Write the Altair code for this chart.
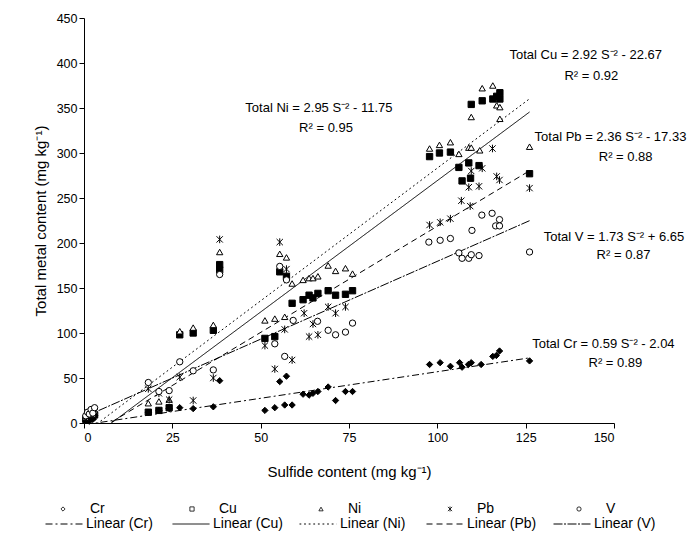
import altair as alt
import pandas as pd

# ---------------- data ----------------
metals = ["Cr", "Cu", "Ni", "Pb", "V"]
metal_fill = ["solid", "solid", "open", "solid", "open"]

cr_s = [0.5, 1.0, 1.5, 2.0, 2.5, 3.0, 18.2, 21.2, 24.1, 27.1, 30.9, 36.6, 38.4,
        51.2, 54.0, 55.4, 56.8, 57.3, 58.9, 62.0, 63.7, 64.8, 66.2, 69.1, 71.2, 74.0, 76.0,
        97.8, 100.8, 103.7, 106.3, 107.0, 108.8, 109.6, 112.4, 115.7, 116.7, 117.6, 126.1]
cr_m = [3, 5, 2, 6, 4, 8, 12, 14, 16, 17, 16, 18, 47,
        14, 17, 46, 20, 52, 20, 32, 31, 33, 35, 40, 25, 35, 35,
        65, 67, 63, 67, 62, 65, 67, 65, 74, 75, 80, 69]

cu_s = [0.5, 1.0, 1.5, 2.0, 2.5, 3.0, 18.2, 21.2, 24.1, 27.1, 30.9, 36.6, 38.4, 38.4,
        51.2, 54.0, 55.4, 57.3, 58.9, 62.0, 63.7, 64.8, 66.2, 69.1, 71.2, 74.0, 76.0,
        97.8, 100.6, 103.7, 106.1, 107.0, 108.9, 109.4, 109.6, 111.8, 112.7, 115.7, 116.8,
        117.7, 117.7, 126.1]
cu_m = [4, 8, 6, 10, 7, 9, 12, 14, 17, 98, 100, 103, 170, 176,
        94, 96, 168, 163, 133, 137, 142, 139, 144, 147, 142, 143, 147,
        296, 300, 301, 284, 269, 289, 272, 354, 286, 358, 360, 363,
        367, 360, 277]

ni_s = [0.5, 1.0, 1.5, 2.0, 2.5, 3.0, 18.2, 21.2, 24.1, 27.1, 30.9, 36.6, 38.4,
        51.2, 54.0, 55.4, 56.8, 57.3, 58.9, 62.0, 63.7, 64.8, 66.2, 69.1, 71.2, 74.0, 76.0,
        97.8, 100.6, 103.7, 106.1, 108.9, 109.6, 109.6, 112.0, 112.7, 115.7, 116.8, 117.7,
        117.7, 126.1]
ni_m = [6, 10, 8, 12, 9, 14, 22, 24, 26, 102, 106, 109, 190,
        114, 116, 188, 118, 184, 155, 159, 161, 161, 163, 175, 169, 172, 166,
        305, 309, 312, 299, 306, 306, 340, 303, 372, 375, 353, 351,
        338, 307]

pb_s = [0.5, 1.0, 1.5, 2.0, 2.5, 3.0, 18.2, 21.2, 24.1, 27.1, 30.9, 36.6, 38.4,
        51.2, 54.0, 55.4, 56.8, 57.3, 58.9, 62.3, 63.7, 64.8, 66.2, 69.1, 71.2, 74.0,
        97.8, 100.8, 103.7, 106.8, 108.9, 109.3, 109.6, 111.8, 112.7, 115.6, 116.8, 117.6, 126.1]
pb_m = [5, 9, 7, 11, 8, 12, 38, 33, 26, 51, 25, 50, 204,
        86, 60, 201, 104, 171, 70, 122, 96, 110, 98, 129, 122, 129,
        220, 223, 227, 247, 262, 241, 280, 263, 283, 305, 274, 270, 261]

v_s = [0.5, 1.0, 1.5, 2.0, 2.5, 3.0, 18.2, 21.2, 24.1, 27.1, 30.9, 36.6, 38.4,
       54.0, 55.4, 56.8, 57.3, 59.2, 66.1, 69.1, 71.2, 74.0, 76.0,
       97.6, 100.8, 103.7, 106.1, 107.0, 108.9, 109.6, 109.8, 111.8, 112.6, 115.5, 116.5,
       117.6, 117.6, 126.1]
v_m = [8, 12, 10, 15, 11, 17, 45, 35, 36, 68, 58, 59, 165,
       88, 174, 74, 159, 114, 113, 103, 98, 101, 111,
       201, 203, 205, 189, 183, 183, 187, 214, 186, 231, 233, 219,
       226, 219, 190]

fit_names = ["Linear (Cr)", "Linear (Cu)", "Linear (Ni)", "Linear (Pb)", "Linear (V)"]
fit_slope = [0.59, 2.92, 2.95, 2.36, 1.73]
fit_intercept = [-2.04, -22.67, -11.75, -17.33, 6.65]

annot_text = ["Total Ni = 2.95 S\u207b\u00b2 - 11.75", "R\u00b2 = 0.95",
              "Total Cu = 2.92 S\u207b\u00b2 - 22.67", "R\u00b2 = 0.92",
              "Total Pb = 2.36 S\u207b\u00b2 - 17.33", "R\u00b2 = 0.88",
              "Total V = 1.73 S\u207b\u00b2 + 6.65", "R\u00b2 = 0.87",
              "Total Cr = 0.59 S\u207b\u00b2 - 2.04", "R\u00b2 = 0.89"]
annot_x = [66.5, 68.5, 142.0, 143.6, 149.0, 153.3, 150.0, 152.7, 147.0, 150.4]
annot_y = [350, 328, 409, 386, 318, 296, 207, 187, 88, 67]

# ---------------- tables ----------------
series = {"Cr": (cr_s, cr_m), "Cu": (cu_s, cu_m), "Ni": (ni_s, ni_m),
          "Pb": (pb_s, pb_m), "V": (v_s, v_m)}
fill_of = dict(zip(metals, metal_fill))
rows = []
for metal in metals:
    xs, ys = series[metal]
    for s, m in zip(xs, ys):
        rows.append({"metal": metal, "fillkind": fill_of[metal], "sulfide": s, "content": m})
points = pd.DataFrame(rows)

line_rows = []
for metal, name, a, b in zip(metals, fit_names, fit_slope, fit_intercept):
    xs = series[metal][0]
    for s in (min(xs), max(xs)):
        line_rows.append({"fit": name, "sulfide": s, "content": a * s + b})
lines = pd.DataFrame(line_rows)

annots = pd.DataFrame({"text": annot_text, "sulfide": annot_x, "content": annot_y})

FONT = "Liberation Sans"
asterisk = "M-1,-1L1,1M-1,1L1,-1M0,-1.2L0,1.2"

xscale = alt.Scale(domain=[0, 150], nice=False)
yscale = alt.Scale(domain=[0, 450], nice=False)

xaxis = alt.Axis(values=[0, 25, 50, 75, 100, 125, 150], grid=False,
                 title="Sulfide content (mg kg\u207b\u00b9)", titlePadding=21,
                 labelPadding=3, tickSize=5)
yaxis = alt.Axis(values=list(range(0, 451, 50)), grid=False,
                 title="Total metal content (mg kg\u207b\u00b9)", titlePadding=8,
                 labelPadding=2, tickSize=5)

pts = alt.Chart(points).mark_point(filled=True, stroke="black", strokeWidth=1,
                                   opacity=1, size=40).encode(
    x=alt.X("sulfide:Q", scale=xscale, axis=xaxis),
    y=alt.Y("content:Q", scale=yscale, axis=yaxis),
    shape=alt.Shape("metal:N", sort=metals,
                    scale=alt.Scale(domain=metals,
                                    range=["diamond", "square", "triangle-up", asterisk, "circle"]),
                    legend=alt.Legend(title=None, orient="none", legendX=-28, legendY=484,
                                      direction="horizontal", columns=5, gridAlign="all",
                                      columnPadding=77, symbolSize=18, labelOffset=20,
                                      symbolFillColor="white", symbolStrokeColor="black",
                                      symbolStrokeWidth=0.8, labelFont=FONT, labelFontSize=14,
                                      labelColor="black", padding=0)),
    fill=alt.Fill("fillkind:N", scale=alt.Scale(domain=["solid", "open"],
                                                range=["black", "white"]),
                  legend=None),
)

lns = alt.Chart(lines).mark_line(color="black", clip=True).encode(
    x=alt.X("sulfide:Q", scale=xscale),
    y=alt.Y("content:Q", scale=yscale),
    detail="fit:N",
    strokeDash=alt.StrokeDash("fit:N", sort=fit_names,
                              scale=alt.Scale(domain=fit_names,
                                              range=[[7, 3, 2, 3], [1, 0], [1.8, 2.8], [6, 4], [9, 1.5, 2, 1.5]]),
                              legend=alt.Legend(title=None, orient="none", legendX=-39, legendY=487,
                                                direction="horizontal", columns=5, gridAlign="all",
                                                columnPadding=13, symbolSize=1369, labelOffset=3,
                                                symbolStrokeColor="black", symbolType="stroke",
                                                labelFont=FONT, labelFontSize=14, labelColor="black",
                                                padding=0)),
    strokeWidth=alt.StrokeWidth("fit:N", sort=fit_names,
                                scale=alt.Scale(domain=fit_names, range=[1, 1, 1.8, 1.5, 1.8]),
                                legend=alt.Legend(title=None)),
)

txt = alt.Chart(annots).mark_text(font=FONT, fontSize=13, color="black",
                                  align="center", baseline="middle").encode(
    x=alt.X("sulfide:Q", scale=xscale),
    y=alt.Y("content:Q", scale=yscale),
    text="text:N",
)

chart = alt.layer(lns, pts, txt).properties(
    width=530, height=405,
    autosize=alt.AutoSizeParams(type="none"),
    padding={"left": 76, "top": 10, "right": 73, "bottom": 108},
).configure_view(stroke=None).configure_axis(
    labelFont=FONT, titleFont=FONT, labelFontSize=12.5, titleFontSize=15,
    titleFontWeight="normal", labelColor="black", titleColor="black",
    domainColor="black", tickColor="black",
)

chart.save("out.html", embed_options={"renderer": "svg", "actions": False})
